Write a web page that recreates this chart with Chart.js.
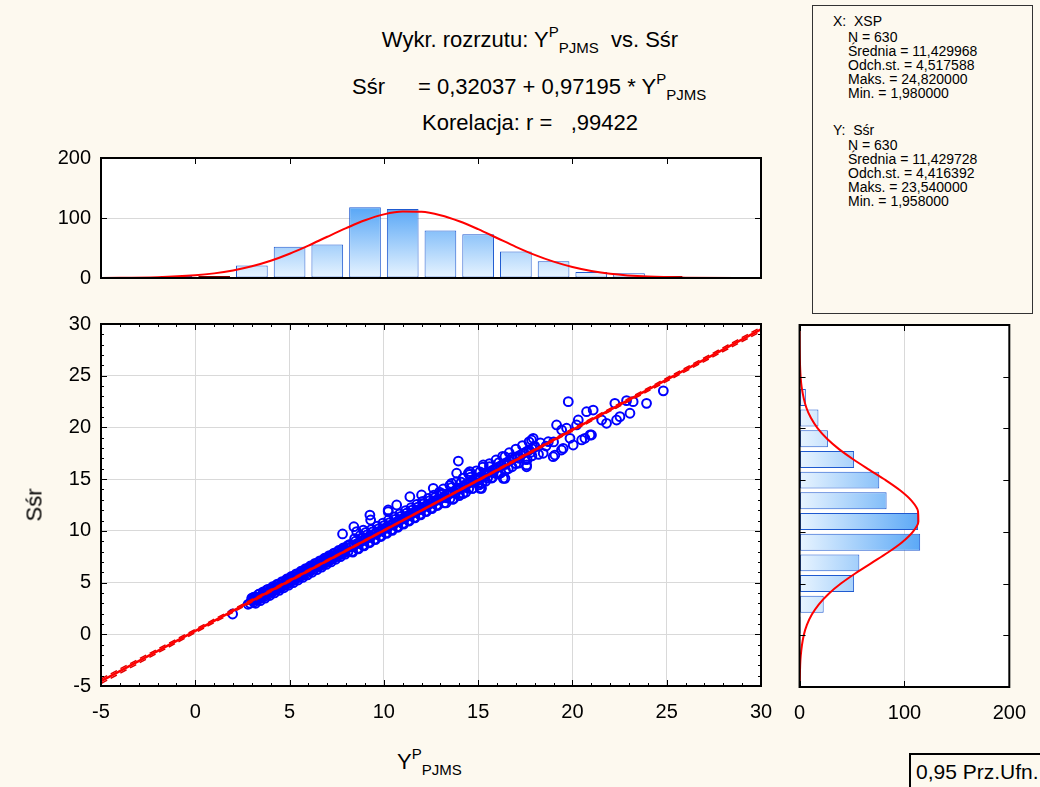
<!DOCTYPE html>
<html>
<head>
<meta charset="utf-8">
<script src="https://cdn.jsdelivr.net/npm/chart.js@4.4.1/dist/chart.umd.min.js"></script>
<style>
    body { margin: 0; background: #fdf9ef; }
    #page {
        position: relative; width: 1040px; height: 787px; overflow: hidden;
        background: #fdf9ef; font-family: 'Liberation Sans', Arial, sans-serif; color: #000;
    }
    .txt { position: absolute; white-space: nowrap; font-size: 22px; line-height: 26px; }
    .sup { font-size: 15px; position: relative; top: -10px; }
    .sub { font-size: 15px; position: relative; top: 6px; }
    canvas { position: absolute; }
    #stats {
        position: absolute; left: 812px; top: 5px; width: 219px; height: 307px;
        border: 1px solid #333; font-size: 14px; line-height: 14px;
    }
    #stats div { position: absolute; white-space: nowrap; }
    #ci {
        position: absolute; left: 909px; top: 753px; width: 140px; height: 40px;
        border: 2px solid #000; font-size: 21px; line-height: 34px; padding-left: 5px;
    }
</style>
</head>
<body>
<div id="page">
    <div class="txt" style="left:280px;top:27px;width:500px;text-align:center">Wykr. rozrzutu: Y<span class="sup">P</span><span class="sub">PJMS</span>&nbsp; vs. Sśr</div>
    <div class="txt" style="left:352px;top:74px">Sśr</div>
    <div class="txt" style="left:418px;top:74px">= 0,32037 + 0,97195 * Y<span class="sup">P</span><span class="sub">PJMS</span></div>
    <div class="txt" style="left:280px;top:110px;width:500px;text-align:center">Korelacja: r = &nbsp; ,99422</div>

    <div id="stats">
        <div style="left:20px;top:8px">X:&nbsp; XSP</div>
        <div style="left:35px;top:24px;line-height:14px">N = 630<br>Średnia = 11,429968<br>Odch.st. = 4,517588<br>Maks. = 24,820000<br>Min. = 1,980000</div>
        <div style="left:20px;top:117px">Y:&nbsp; Sśr</div>
        <div style="left:35px;top:132px;line-height:14px">N = 630<br>Średnia = 11,429728<br>Odch.st. = 4,416392<br>Maks. = 23,540000<br>Min. = 1,958000</div>
    </div>

    <canvas id="topHist" width="790" height="150" style="left:0;top:140px"></canvas>
    <canvas id="scatter" width="790" height="430" style="left:0;top:300px"></canvas>
    <canvas id="rightHist" width="260" height="430" style="left:780px;top:300px"></canvas>

    <div class="txt" style="left:18px;top:492px;transform:rotate(-90deg);transform-origin:center">Sśr</div>
    <div class="txt" style="left:397px;top:749px">Y<span class="sup">P</span><span class="sub">PJMS</span></div>
    <div id="ci">0,95 Prz.Ufn.</div>
</div>

<script>
// ---- values ----

// top histogram (X = Y^P_PJMS), bins of width 2
const topBinCenters = [-1, 1, 3, 5, 7, 9, 11, 13, 15, 17, 19, 21, 23, 25];
const topBinCounts  = [0, 1, 21, 52, 56, 118, 115, 79, 73, 44, 28, 10, 8, 1];

// right histogram (Y = Sśr), bins of width 2
const rightBinCenters = [1, 3, 5, 7, 9, 11, 13, 15, 17, 19, 21, 23];
const rightBinCounts  = [1, 23, 52, 57, 115, 113, 83, 76, 52, 27, 18, 6];

// fitted normal curves
const curveAt    = [-5, -2, 0, 1, 2, 3, 4, 5, 6, 7, 8, 9, 10, 11, 12, 13, 14, 15, 16, 17, 18, 19, 20, 21, 22, 24, 26, 30];
const topCurve   = [0.2, 1.3, 4.5, 7.7, 12.6, 19.5, 28.7, 40.4, 54, 68.7, 83, 96.2, 106, 110.7, 110.3, 104.7, 94.6, 81.4, 66.7, 52, 38.6, 27.3, 18.4, 11.8, 7.2, 2.3, 0.6, 0];
const rightCurve = [0.1, 1.1, 4.0, 7.0, 11.7, 18.4, 27.6, 39.4, 53.4, 68.8, 84.2, 97.8, 108, 113.3, 112.9, 106.9, 96.1, 82.1, 66.6, 51.4, 37.6, 26.2, 17.3, 10.9, 6.5, 2.0, 0.5, 0];

// regression line and 0,95 confidence band
const lineX   = [-5, 11.43, 30];
const lineY   = [-4.54, 11.43, 29.48];
const ciUpper = [-4.32, 11.47, 29.68];
const ciLower = [-4.76, 11.39, 29.28];

// scatter points [x, y]
const scatterPts = [
    [1.98,1.96],[2.8,2.9],[2.9,3.0],[3.0,3.4],
    [3.0,3.5],[3.1,3.1],[3.2,3.6],[3.3,3.3],[3.4,3.9],[3.5,3.5],[3.6,4.0],[3.7,3.7],[3.8,4.3],[3.9,3.9],
    [4.0,4.4],[4.1,4.1],[4.2,4.6],[4.3,4.3],[4.4,4.8],[4.5,4.5],[4.6,5.0],[4.7,4.7],[4.8,5.2],[4.9,4.9],
    [5.0,5.4],[5.1,5.1],[5.2,5.6],[5.3,5.3],[5.4,5.8],[5.5,5.5],[5.6,6.0],[5.7,5.7],[5.8,6.2],[5.9,5.9],
    [6.0,6.4],[6.1,6.1],[6.2,6.6],[6.3,6.3],[6.4,6.8],[6.5,6.5],[6.6,7.0],[6.7,6.7],[6.8,7.2],[6.9,6.9],
    [7.0,7.4],[7.1,7.1],[7.2,7.6],[7.3,7.3],[7.4,7.8],[7.5,7.5],[7.6,8.0],[7.7,7.7],[7.8,8.2],[7.9,7.9],
    [8.0,8.4],[8.1,8.0],
    [3.05,3.25],[3.15,3.35],[3.25,3.45],[3.35,3.55],[3.45,3.65],[3.55,3.75],[3.65,3.85],[3.75,3.95],[3.85,4.05],
    [3.95,4.15],[4.05,4.25],[4.15,4.35],[4.25,4.45],[4.35,4.55],[4.45,4.65],[4.55,4.75],[4.65,4.85],[4.75,4.95],
    [4.85,5.05],[4.95,5.15],[5.05,5.25],[5.15,5.35],[5.25,5.45],[5.35,5.55],[5.45,5.65],[5.55,5.75],[5.65,5.85],
    [5.75,5.95],[5.85,6.05],[5.95,6.15],[6.05,6.25],[6.15,6.35],[6.25,6.45],[6.35,6.55],[6.45,6.65],[6.55,6.75],
    [6.65,6.85],[6.75,6.95],[6.85,7.05],[6.95,7.15],[7.05,7.25],[7.15,7.35],[7.25,7.45],[7.35,7.55],[7.45,7.65],
    [7.55,7.75],[7.65,7.85],[7.75,7.95],[7.85,8.05],[7.95,8.15],
    [3.1,3.6],[3.35,3.85],[3.6,4.1],[3.85,4.35],[4.1,4.6],[4.35,4.85],[4.6,5.1],[4.85,5.35],[5.1,5.6],[5.35,5.85],
    [5.6,6.1],[5.85,6.35],[6.1,6.6],[6.35,6.85],[6.6,7.1],[6.85,7.35],[7.1,7.6],[7.35,7.85],[7.6,8.1],[7.85,8.35],
    [8.1,8.6],
    [3.2,3.0],[3.45,3.25],[3.7,3.5],[3.95,3.75],[4.2,4.0],[4.45,4.25],[4.7,4.5],[4.95,4.75],[5.2,5.0],[5.45,5.25],
    [5.7,5.5],[5.95,5.75],[6.2,6.0],[6.45,6.25],[6.7,6.5],[6.95,6.75],[7.2,7.0],[7.45,7.25],[7.7,7.5],[7.95,7.75],
    [8.2,8.7],[8.3,8.0],[8.4,8.5],[8.5,9.0],[8.6,8.3],[8.7,8.8],[8.8,9.3],[8.9,8.6],[9.0,9.1],[9.1,9.6],
    [9.2,8.9],[9.3,9.4],[9.4,9.9],[9.5,9.2],[9.6,9.7],[9.7,10.2],[9.8,9.5],[9.9,10.0],[10.0,10.5],[10.1,9.8],
    [10.2,10.3],[10.3,10.8],[10.4,10.1],[10.5,10.6],[10.6,11.1],[10.7,10.4],[10.8,10.9],[10.9,11.4],[11.0,10.7],
    [11.1,11.2],[11.2,11.7],[11.3,11.0],[11.4,11.5],[11.5,12.0],[11.6,11.3],[11.7,11.8],[11.8,12.3],[11.9,11.6],
    [12.0,12.1],[12.1,12.6],[12.2,11.9],[12.3,12.4],[12.4,12.9],[12.5,12.2],[12.6,12.7],[12.7,13.2],[12.8,12.5],
    [12.9,13.0],[13.0,13.5],
    [8.25,8.45],[8.4,8.6],[8.55,8.75],[8.7,8.9],[8.85,9.05],[9.0,9.2],[9.15,9.35],[9.3,9.5],[9.45,9.65],[9.6,9.8],
    [9.75,9.95],[9.9,10.1],[10.05,10.25],[10.2,10.4],[10.35,10.55],[10.5,10.7],[10.65,10.85],[10.8,11.0],
    [10.95,11.15],[11.1,11.3],[11.25,11.45],[11.4,11.6],[11.55,11.75],[11.7,11.9],[11.85,12.05],[12.0,12.2],
    [12.15,12.35],[12.3,12.5],[12.45,12.65],[12.6,12.8],[12.75,12.95],[12.9,13.1],
    [8.35,7.95],[8.65,8.25],[8.95,8.55],[9.25,8.85],[9.55,9.15],[9.85,9.45],[10.15,9.75],[10.45,10.05],
    [10.75,10.35],[11.05,10.65],[11.35,10.95],[11.65,11.25],[11.95,11.55],[12.25,11.85],[12.55,12.15],[12.85,12.45],
    [8.45,9.25],[8.75,9.55],[9.05,9.85],[9.35,10.15],[9.65,10.45],[9.95,10.75],[10.25,11.05],[10.55,11.35],
    [10.85,11.65],[11.15,11.95],[11.45,12.25],[11.75,12.55],[12.05,12.85],[12.35,13.15],[12.65,13.45],[12.95,13.75],
    [13.1,13.6],[13.2,12.7],[13.3,13.2],[13.4,13.6],[13.5,13.1],[13.6,14.2],[13.7,13.1],[13.8,13.7],[13.9,14.1],
    [14.0,13.6],[14.1,14.7],[14.2,13.6],[14.3,14.2],[14.4,14.6],[14.5,14.1],[14.6,15.2],[14.7,14.1],[14.8,14.7],
    [14.9,15.1],[15.0,14.6],[15.1,15.7],[15.2,14.6],[15.3,15.2],[15.4,15.6],[15.5,15.1],[15.6,16.2],[15.7,15.1],
    [15.8,15.6],[15.9,16.0],[16.0,15.5],[16.1,16.6],[16.2,15.6],[16.4,16.4],[16.6,16.0],[16.8,17.1],[17.0,16.5],
    [17.2,17.0],[17.4,17.5],[17.6,16.9],[17.8,17.6],[18.0,18.2],[18.2,17.4],[18.3,18.5],[18.6,18.2],[19.0,18.6],
    [13.05,13.15],[13.2,13.3],[13.35,13.45],[13.5,13.6],[13.65,13.75],[13.8,13.9],[13.95,14.05],[14.1,14.2],
    [14.25,14.35],[14.4,14.5],[14.55,14.65],[14.7,14.8],[14.85,14.95],[15.0,15.1],[15.15,15.25],[15.3,15.4],
    [15.45,15.55],[15.6,15.7],[15.75,15.85],[15.9,16.0],[16.05,16.15],[16.2,16.3],[16.35,16.45],[16.5,16.6],
    [16.65,16.75],[16.8,16.9],[16.95,17.05],[17.1,17.2],[17.25,17.35],[17.4,17.5],[17.55,17.65],[17.7,17.8],
    [17.85,17.95],[18.0,18.1],
    [13.15,14.05],[13.5,14.4],[13.85,14.75],[14.2,15.1],[14.55,15.45],[14.9,15.8],[15.25,16.15],[15.6,16.5],
    [15.95,16.85],[16.3,17.2],[16.65,17.55],[17.0,17.9],[17.35,18.25],[17.7,18.6],
    [13.3,12.7],[13.65,13.05],[14.0,13.4],[14.35,13.75],[14.7,14.1],[15.05,14.45],[15.4,14.8],[15.75,15.15],
    [16.1,15.5],[16.45,15.85],[16.8,16.2],[17.15,16.55],[17.5,16.9],[17.85,17.25],
    [7.81,9.7],[8.41,10.4],[8.56,9.92],[8.91,10.08],[9.26,11.53],[9.3,11.05],[10.23,11.86],[10.23,12.02],
    [10.68,12.5],[11.38,13.3],[12.0,13.47],[12.62,14.11],[13.59,14.59],[13.95,16.75],[13.86,15.57],[14.48,15.57],
    [14.56,15.73],[15.1,14.11],[15.18,14.11],[15.27,16.37],[16.42,17.17],[16.33,15.08],[16.42,15.08],[17.57,16.37],
    [17.57,16.2],[17.83,18.79],[17.92,18.95],[18.45,17.5],[18.72,18.62],[18.98,17.17],[19.07,17.33],[19.16,20.24],
    [19.42,17.82],[19.43,19.75],[19.51,17.98],[19.69,19.92],[19.78,22.49],[19.87,18.95],[20.04,18.3],[20.22,20.24],
    [20.31,20.72],[20.49,18.79],[20.66,18.95],[20.75,21.52],[20.93,19.27],[21.01,19.27],[21.1,21.68],[21.55,20.72],
    [21.81,20.4],[22.25,22.33],[22.34,20.72],[22.52,21.04],[22.87,22.59],[23.05,21.37],[23.22,22.49],[23.93,22.33],
    [24.82,23.54]
];

Chart.defaults.font.family = "'Liberation Sans', Arial, sans-serif";
Chart.defaults.font.size = 20;
Chart.defaults.color = '#000';

const GRID = '#d9d9d9';

/* white plot area, black frame and inward tick marks */
const framePlugin = {
    id: 'frame',
    beforeDraw(chart) {
        const { ctx, chartArea: a } = chart;
        ctx.save();
        ctx.fillStyle = '#fff';
        ctx.fillRect(a.left, a.top, a.width, a.height);
        ctx.restore();
    },
    afterDraw(chart, args, opts) {
        const { ctx, chartArea: a } = chart;
        ctx.save();
        ctx.strokeStyle = '#000';
        ctx.lineWidth = 1;
        (opts.marks || []).forEach(m => {
            const sc = chart.scales[m.axis];
            for (let v = Math.ceil(sc.min / m.step) * m.step; v <= sc.max + 1e-9; v += m.step) {
                const p = Math.round(sc.getPixelForValue(v)) + 0.5;
                ctx.beginPath();
                m.sides.forEach(s => {
                    if (s === 'top')    { ctx.moveTo(p, a.top);    ctx.lineTo(p, a.top + m.len); }
                    if (s === 'bottom') { ctx.moveTo(p, a.bottom); ctx.lineTo(p, a.bottom - m.len); }
                    if (s === 'left')   { ctx.moveTo(a.left, p);   ctx.lineTo(a.left + m.len, p); }
                    if (s === 'right')  { ctx.moveTo(a.right, p);  ctx.lineTo(a.right - m.len, p); }
                });
                ctx.stroke();
            }
        });
        ctx.lineWidth = 2;
        ctx.strokeRect(a.left, a.top, a.width, a.height);
        ctx.restore();
    }
};

const baseOpts = {
    responsive: false,
    animation: false,
    events: [],
    plugins: { legend: { display: false }, tooltip: { enabled: false } }
};

// fixed axis width, no extra room for half label heights
function fixWidth(w) {
    return s => { s.width = w; s.paddingTop = 0; s.paddingBottom = 0; };
}

function barGradient(ctx, horizontal) {
    const chart = ctx.chart;
    if (!chart.chartArea) return '#9fcaf7';
    const sc = horizontal ? chart.scales.x : chart.scales.y;
    const p0 = sc.getPixelForValue(0), p1 = sc.getPixelForValue(120);
    const g = horizontal
        ? chart.ctx.createLinearGradient(p0, 0, p1, 0)
        : chart.ctx.createLinearGradient(0, p0, 0, p1);
    g.addColorStop(0, '#e8f4ff');
    g.addColorStop(1, '#55a5f6');
    return g;
}

/* --- top histogram --- */
new Chart(document.getElementById('topHist'), {
    type: 'bar',
    data: {
        datasets: [{
            type: 'line',
            data: curveAt.map((x, i) => ({ x: x, y: topCurve[i] })),
            borderColor: '#ff0000',
            borderWidth: 2,
            pointRadius: 0,
            cubicInterpolationMode: 'monotone'
        }, {
            data: topBinCenters.map((x, i) => ({ x: x, y: topBinCounts[i] })),
            backgroundColor: ctx => barGradient(ctx, false),
            borderColor: ctx => (ctx.dataIndex === 1 || ctx.dataIndex === 13) ? '#7a0000' : '#1f5ad0',
            borderWidth: 1,
            borderSkipped: false,
            minBarLength: 2,
            barPercentage: 0.84,
            categoryPercentage: 1
        }]
    },
    options: {
        ...baseOpts,
        layout: { padding: { left: 0, right: 29, top: 18, bottom: 12 } },
        scales: {
            x: { type: 'linear', min: -5, max: 30, offset: false, display: false },
            y: {
                min: 0, max: 200,
                ticks: { stepSize: 100, padding: 10 },
                grid: { color: GRID, drawTicks: false },
                border: { display: false },
                afterFit: fixWidth(101)
            }
        },
        plugins: {
            ...baseOpts.plugins,
            frame: { marks: [
                { axis: 'x', step: 5, len: 6, sides: ['top'] },
                { axis: 'y', step: 100, len: 6, sides: ['left', 'right'] }
            ] }
        }
    },
    plugins: [framePlugin]
});

/* --- scatter with regression line --- */
new Chart(document.getElementById('scatter'), {
    type: 'scatter',
    data: {
        datasets: [{
            type: 'line',
            data: lineX.map((x, i) => ({ x: x, y: lineY[i] })),
            borderColor: '#ff0000',
            borderWidth: 2.5,
            pointRadius: 0
        }, {
            type: 'line',
            data: lineX.map((x, i) => ({ x: x, y: ciUpper[i] })),
            borderColor: '#e00000',
            borderWidth: 1.5,
            borderDash: [7, 4],
            pointRadius: 0
        }, {
            type: 'line',
            data: lineX.map((x, i) => ({ x: x, y: ciLower[i] })),
            borderColor: '#e00000',
            borderWidth: 1.5,
            borderDash: [7, 4],
            pointRadius: 0
        }, {
            data: scatterPts.map(p => ({ x: p[0], y: p[1] })),
            pointStyle: 'circle',
            pointRadius: 4.4,
            pointBorderWidth: 2,
            pointBorderColor: '#0000ff',
            pointBackgroundColor: 'rgba(0,0,0,0)'
        }]
    },
    options: {
        ...baseOpts,
        layout: { padding: { left: 0, right: 29, top: 24, bottom: 0 } },
        scales: {
            x: {
                type: 'linear', min: -5, max: 30,
                ticks: { stepSize: 5, padding: 14 },
                grid: { color: GRID, drawTicks: false },
                border: { display: false },
                afterFit: s => { s.height = 44; }
            },
            y: {
                type: 'linear', min: -5, max: 30,
                ticks: { stepSize: 5, padding: 10 },
                grid: { color: GRID, drawTicks: false },
                border: { display: false },
                afterFit: fixWidth(101)
            }
        },
        plugins: {
            ...baseOpts.plugins,
            frame: { marks: [
                { axis: 'x', step: 1, len: 3, sides: ['top', 'bottom'] },
                { axis: 'x', step: 5, len: 6, sides: ['top', 'bottom'] },
                { axis: 'y', step: 1, len: 3, sides: ['left', 'right'] },
                { axis: 'y', step: 5, len: 6, sides: ['left', 'right'] }
            ] }
        }
    },
    plugins: [framePlugin]
});

/* --- right histogram --- */
new Chart(document.getElementById('rightHist'), {
    type: 'bar',
    data: {
        datasets: [{
            type: 'line',
            indexAxis: 'y',
            data: curveAt.map((v, i) => ({ x: rightCurve[i], y: v })),
            borderColor: '#ff0000',
            borderWidth: 2,
            pointRadius: 0,
            cubicInterpolationMode: 'monotone'
        }, {
            data: rightBinCenters.map((v, i) => ({ x: rightBinCounts[i], y: v })),
            backgroundColor: ctx => barGradient(ctx, true),
            borderColor: '#1f5ad0',
            borderWidth: 1,
            borderSkipped: false,
            barPercentage: 0.82,
            categoryPercentage: 1
        }]
    },
    options: {
        ...baseOpts,
        indexAxis: 'y',
        layout: { padding: { left: 18, right: 23, top: 25, bottom: 0 } },
        scales: {
            y: { type: 'linear', min: -5, max: 30, offset: false, display: false },
            x: {
                type: 'linear', min: 0, max: 200,
                ticks: { stepSize: 100, padding: 14 },
                grid: { color: GRID, drawTicks: false },
                border: { display: false },
                afterFit: s => { s.height = 43; }
            }
        },
        plugins: {
            ...baseOpts.plugins,
            frame: { marks: [
                { axis: 'y', step: 5, len: 6, sides: ['left', 'right'] },
                { axis: 'x', step: 100, len: 6, sides: ['top', 'bottom'] }
            ] }
        }
    },
    plugins: [framePlugin]
});
</script>
</body>
</html>
